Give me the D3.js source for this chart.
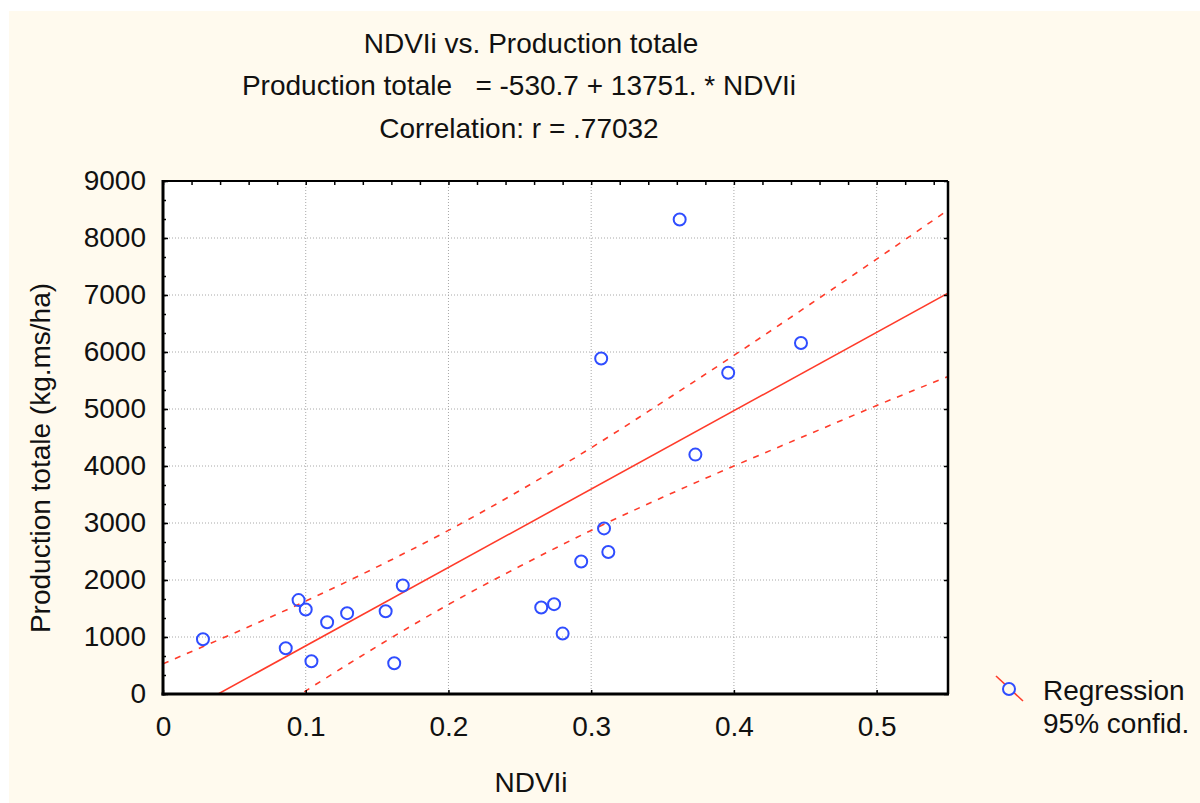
<!DOCTYPE html>
<html>
<head>
<meta charset="utf-8">
<script src="https://cdn.jsdelivr.net/npm/d3@7"></script>
<style>
  body { margin: 0; background: #fff; }
  text { font-family: "Liberation Sans", Arial, sans-serif; fill: #111; }
</style>
</head>
<body>
<svg id="chart" width="1200" height="803"></svg>
<script>
// values
const ndvi = [0.028, 0.086, 0.095, 0.100, 0.104, 0.115, 0.129, 0.156, 0.162, 0.168,
              0.265, 0.274, 0.280, 0.293, 0.307, 0.309, 0.312, 0.362, 0.373, 0.396, 0.447];
const production = [961, 803, 1647, 1482, 575, 1260, 1418, 1453, 540, 1903,
                    1517, 1576, 1060, 2325, 5887, 2905, 2490, 8325, 4200, 5636, 6157];

const intercept = -530.7;
const slope = 13751;

// 95% confidence limits, read at these NDVIi values
const bandX = [0, 0.05, 0.1, 0.15, 0.2, 0.25, 0.3, 0.35, 0.4, 0.45, 0.5, 0.55];
const bandUpper = [530, 1070, 1630, 2230, 2870, 3570, 4320, 5120, 5940, 6780, 7630, 8490];
const bandLower = [-1590, -760, 55, 835, 1570, 2240, 2870, 3450, 4000, 4530, 5060, 5570];

const xTicks = [0, 0.1, 0.2, 0.3, 0.4, 0.5];
const yTicks = [0, 1000, 2000, 3000, 4000, 5000, 6000, 7000, 8000, 9000];
const titleLines = ['NDVIi vs. Production totale',
                    'Production totale   = -530.7 + 13751. * NDVIi',
                    'Correlation: r = .77032'];
const legendItems = ['Regression', '95% confid.'];

const svg = d3.select('#chart');
const red = '#ff3b2a', blue = '#2f4dff';

// background panel
svg.append('rect').attr('x', 9).attr('y', 11).attr('width', 1191).attr('height', 792).attr('fill', '#fffaee');

const x = d3.scaleLinear().domain([0, 0.55]).range([163, 948]);
const y = d3.scaleLinear().domain([0, 9000]).range([694, 181]);

svg.append('rect')
  .attr('x', x(0)).attr('y', y(9000))
  .attr('width', x(0.55) - x(0)).attr('height', y(0) - y(9000))
  .attr('fill', '#fff');

// grid
const grid = svg.append('g').attr('stroke', '#a8a8a8').attr('stroke-dasharray', '1,2').attr('stroke-width', 1);
grid.selectAll('.gx').data(xTicks.slice(1)).enter().append('line')
  .attr('x1', d => x(d)).attr('x2', d => x(d)).attr('y1', y(9000)).attr('y2', y(0));
grid.selectAll('.gy').data(yTicks.slice(1, -1)).enter().append('line')
  .attr('x1', x(0)).attr('x2', x(0.55)).attr('y1', d => y(d)).attr('y2', d => y(d));

// regression line + 95% confidence limits
svg.append('clipPath').attr('id', 'clip').append('rect')
  .attr('x', x(0)).attr('y', y(9000)).attr('width', x(0.55) - x(0)).attr('height', y(0) - y(9000));

const lines = svg.append('g').attr('clip-path', 'url(#clip)').attr('fill', 'none').attr('stroke', red).attr('stroke-width', 1.6);
lines.append('path').attr('d', d3.line()([[x(0), y(intercept)], [x(0.55), y(intercept + slope * 0.55)]]));
const bandLine = vals => d3.line().curve(d3.curveNatural).x((d, i) => x(bandX[i])).y(d => y(d))(vals);
lines.append('path').attr('stroke-dasharray', '6,7').attr('d', bandLine(bandUpper));
lines.append('path').attr('stroke-dasharray', '6,7').attr('d', bandLine(bandLower));

// points
svg.append('g').selectAll('circle').data(ndvi).enter().append('circle')
  .attr('cx', d => x(d)).attr('cy', (d, i) => y(production[i])).attr('r', 6)
  .attr('fill', 'none').attr('stroke', blue).attr('stroke-width', 2);

// axes (ticks inward)
const minorX = d3.range(0, 0.5501, 0.02);
const minorY = d3.range(0, 9001, 1000 / 3);
const fmtX = d => d === 0 ? '0' : d3.format('.1f')(d);

svg.append('g').attr('transform', `translate(${x(0)},0)`)
  .call(d3.axisLeft(y).tickValues(yTicks).tickSize(-5).tickPadding(17).tickFormat(d3.format('d')));
svg.append('g').attr('transform', `translate(${x(0)},0)`)
  .call(d3.axisLeft(y).tickValues(minorY).tickSize(-3).tickFormat(''));
svg.append('g').attr('transform', `translate(0,${y(0)})`)
  .call(d3.axisBottom(x).tickValues(xTicks).tickSize(-4).tickPadding(22).tickFormat(fmtX));
svg.append('g').attr('transform', `translate(0,${y(9000)})`)
  .call(d3.axisTop(x).tickValues(minorX).tickSize(-4).tickFormat(''));
svg.append('g').attr('transform', `translate(${x(0.55)},0)`)
  .call(d3.axisRight(y).tickValues(yTicks).tickSize(-4).tickFormat(''));

svg.selectAll('.domain').remove();
svg.selectAll('.tick line').attr('stroke', '#000').attr('stroke-width', 1.5);
svg.selectAll('.tick text').attr('font-size', 28).attr('fill', '#111')
  .style('font-family', '"Liberation Sans", Arial, sans-serif');

// frame
const frame = svg.append('g').attr('stroke', '#000');
frame.append('line').attr('x1', x(0)).attr('x2', x(0.55)).attr('y1', y(9000)).attr('y2', y(9000)).attr('stroke-width', 2);
frame.append('line').attr('x1', x(0.55)).attr('x2', x(0.55)).attr('y1', y(9000)).attr('y2', y(0)).attr('stroke-width', 2.5);
frame.append('line').attr('x1', x(0)).attr('x2', x(0)).attr('y1', y(9000) - 1).attr('y2', y(0) + 1.5).attr('stroke-width', 3);
frame.append('line').attr('x1', x(0) - 1.5).attr('x2', x(0.55) + 1).attr('y1', y(0)).attr('y2', y(0)).attr('stroke-width', 3);

// titles
const titlePos = [[531, 53], [519, 95], [519, 138]];
svg.selectAll('.title').data(titleLines).enter().append('text')
  .attr('x', (d, i) => titlePos[i][0]).attr('y', (d, i) => titlePos[i][1])
  .attr('text-anchor', 'middle').attr('font-size', 28)
  .style('white-space', 'pre').text(d => d);

// axis titles
svg.append('text').attr('x', 531).attr('y', 792).attr('text-anchor', 'middle').attr('font-size', 28).text('NDVIi');
svg.append('text').attr('transform', 'translate(50,458) rotate(-90)').attr('text-anchor', 'middle')
  .attr('font-size', 28).text('Production totale (kg.ms/ha)');

// legend
const lg = svg.append('g');
lg.append('line').attr('x1', 996).attr('y1', 676).attr('x2', 1023).attr('y2', 701).attr('stroke', red).attr('stroke-width', 1.6);
lg.append('circle').attr('cx', 1009).attr('cy', 689).attr('r', 6).attr('fill', '#fffaee').attr('stroke', blue).attr('stroke-width', 2);
lg.selectAll('.lt').data(legendItems).enter().append('text')
  .attr('x', 1043).attr('y', (d, i) => 700 + i * 33).attr('font-size', 28).text(d => d);
</script>
</body>
</html>
